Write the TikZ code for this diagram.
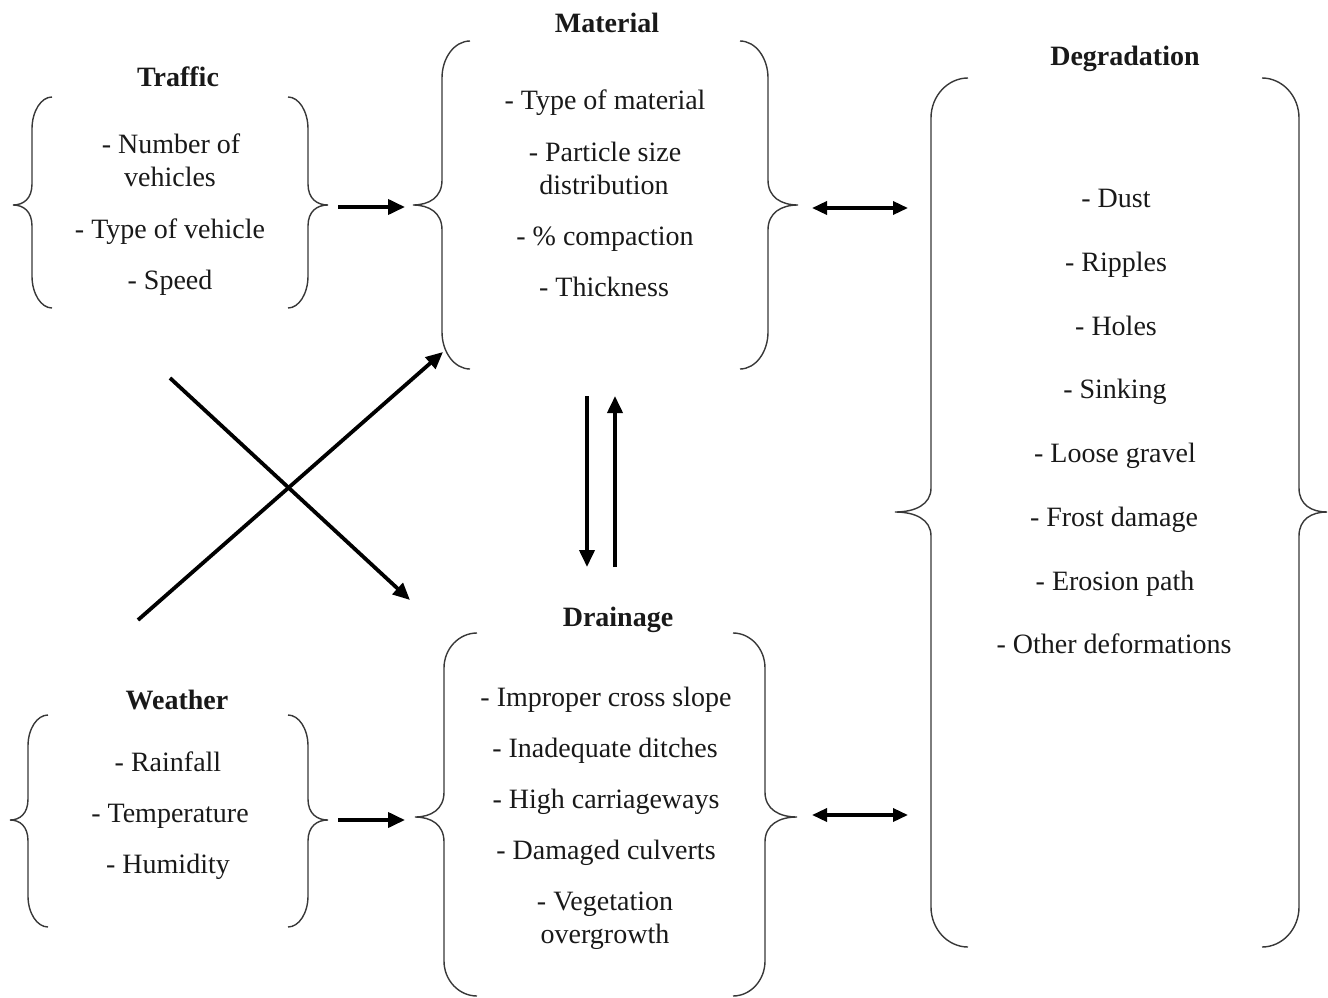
\documentclass[tikz,border=0pt]{standalone}
\usepackage{fontspec}
\setmainfont{Liberation Serif}
\usetikzlibrary{arrows.meta,calc}
% #1 curl end x, #2 vertical x, #3 tip x, #4 top y, #5 mid y, #6 bottom y, #7 corner size, #8 tip size
\newcommand\bracepath[8]{%
  \draw[brace] (#1,#4) .. controls ({#2+0.45*(#1-#2)},#4) and (#2,{#4+0.45*#7}) .. (#2,{#4+#7})
    -- (#2,{#5-#8}) .. controls (#2,{#5-0.3*#8}) and ({#2+0.45*(#3-#2)},#5) .. (#3,#5)
    .. controls ({#2+0.45*(#3-#2)},#5) and (#2,{#5+0.3*#8}) .. (#2,{#5+#8})
    -- (#2,{#6-#7}) .. controls (#2,{#6-0.45*#7}) and ({#2+0.45*(#1-#2)},#6) .. (#1,#6);}
\tikzset{
  brace/.style={line width=1.4pt, draw=black!78},
  item/.style={font=\fontsize{28}{33}\selectfont, text=black!90, inner sep=0pt, anchor=base},
  ttl/.style={item, font=\fontsize{28}{33}\selectfont\bfseries},
  arr/.style={line width=3.8pt, draw=black, -{Triangle[length=17pt,width=15pt]}},
  darr/.style={line width=3.4pt, draw=black, {Triangle[length=15pt,width=13pt]}-{Triangle[length=15pt,width=13pt]}}
}
\begin{document}
\begin{tikzpicture}[x=1pt, y=-1pt]
\useasboundingbox (0,0) rectangle (1328,998);

% Traffic
\bracepath{52}{32}{13}{97}{205}{308}{32}{21}
\bracepath{288}{308}{328}{97}{205}{308}{32}{21}
\node[ttl] (traffic) at (178,87) {Traffic};
\node[item] (t1a) at (171,153) {- Number of};
\node[item] (t1b) at (170,186) {vehicles};
\node[item] (t2) at (170,238) {- Type of vehicle};
\node[item] (t3) at (170,289) {- Speed};

% Material
\bracepath{470}{442}{413}{41}{205}{369}{37}{25}
\bracepath{740}{768}{798}{41}{205}{369}{37}{25}
\node[ttl] (material) at (607,33) {Material};
\node[item] (m1) at (605,110) {- Type of material};
\node[item] (m2a) at (605,161) {- Particle size};
\node[item] (m2b) at (604,194) {distribution};
\node[item] (m3) at (605,245) {- \% compaction};
\node[item] (m4) at (604,296) {- Thickness};

% Degradation
\bracepath{968}{931}{895}{78}{512}{947}{40}{24}
\bracepath{1262}{1299}{1327}{78}{512}{947}{40}{24}
\node[ttl] (degradation) at (1125,66) {Degradation};
\node[item] (d1) at (1116,207) {- Dust};
\node[item] (d2) at (1116,271) {- Ripples};
\node[item] (d3) at (1116,335) {- Holes};
\node[item] (d4) at (1115,398) {- Sinking};
\node[item] (d5) at (1115,462) {- Loose gravel};
\node[item] (d6) at (1114,526) {- Frost damage};
\node[item] (d7) at (1115,590) {- Erosion path};
\node[item] (d8) at (1114,653) {- Other deformations};

% Weather
\bracepath{48}{28}{10}{715}{820}{927}{31}{21}
\bracepath{288}{308}{328}{715}{820}{927}{31}{21}
\node[ttl] (weather) at (177,709) {Weather};
\node[item] (w1) at (168,771) {- Rainfall};
\node[item] (w2) at (170,822) {- Temperature};
\node[item] (w3) at (168,873) {- Humidity};

% Drainage
\bracepath{477}{444}{415}{633}{817}{996}{35}{25}
\bracepath{733}{765}{797}{633}{817}{996}{35}{25}
\node[ttl] (drainage) at (618,626) {Drainage};
\node[item] (r1) at (606,706) {- Improper cross slope};
\node[item] (r2) at (605,757) {- Inadequate ditches};
\node[item] (r3) at (606,808) {- High carriageways};
\node[item] (r4) at (606,859) {- Damaged culverts};
\node[item] (r5a) at (605,910) {- Vegetation};
\node[item] (r5b) at (605,943) {overgrowth};

% connector end points
\coordinate (tOut) at (338,207);
\coordinate (mIn) at (405,207);
\coordinate (wOut) at (338,820);
\coordinate (dIn) at (405,820);
\coordinate (mOut) at (812,208);
\coordinate (gIn1) at (908,208);
\coordinate (rOut) at (812,815);
\coordinate (gIn2) at (908,815);
\coordinate (xA) at (170,378);
\coordinate (xAend) at (410,600);
\coordinate (xB) at (138,620);
\coordinate (xBend) at (443,352);
\coordinate (vDs) at (587,396);
\coordinate (vDe) at (587,567);
\coordinate (vUs) at (615,567);
\coordinate (vUe) at (615,396);

\draw[arr] (tOut) -- (mIn);
\draw[arr] (wOut) -- (dIn);
\draw[darr] (mOut) -- (gIn1);
\draw[darr] (rOut) -- (gIn2);
\draw[arr] (xA) -- (xAend);
\draw[arr] (xB) -- (xBend);
\draw[arr] (vDs) -- (vDe);
\draw[arr] (vUs) -- (vUe);
\end{tikzpicture}
\end{document}
